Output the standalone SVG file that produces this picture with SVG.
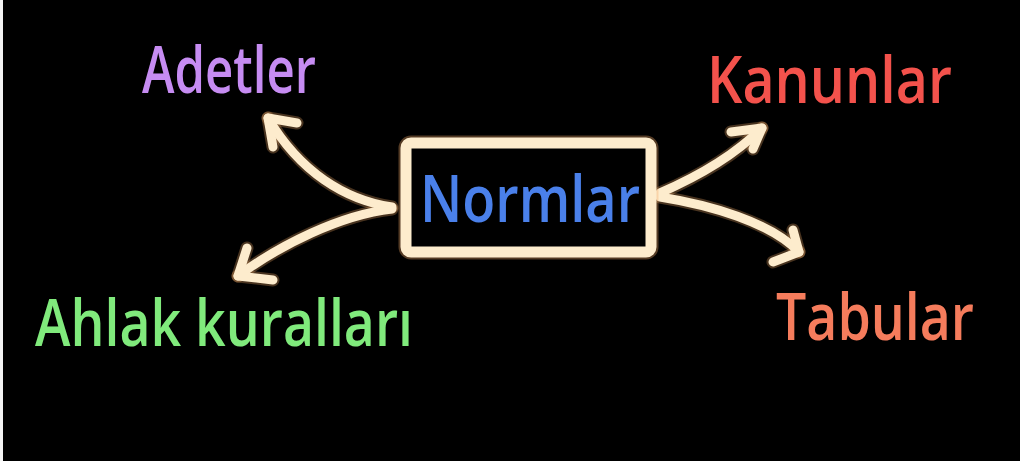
<svg xmlns="http://www.w3.org/2000/svg" width="1020" height="461" viewBox="0 0 1020 461">
<style>
.lbl{font-family:"Open Sans","Liberation Sans",sans-serif;font-size:66px;font-weight:600;}
.glow{fill:none;stroke:#f0a868;stroke-opacity:0.3;stroke-width:13;stroke-linecap:round;stroke-linejoin:round;}
.line{fill:none;stroke:#fdeccd;stroke-width:9;stroke-linecap:round;stroke-linejoin:round;}
</style>
<rect x="0" y="0" width="1020" height="461" fill="#000"/>
<rect x="0" y="0" width="3" height="461" fill="#f4f4f4"/>
<g id="connectors">
  <g class="glow">
    <path d="M392,207 C345,200 300,172 268,118"/>
    <path d="M297,123 L268,118 L273,147"/>
    <path d="M392,209 C340,215 280,245 238,276"/>
    <path d="M247,248 L238,276 L273,280"/>
    <path d="M660,193 C690,180 730,160 762,128"/>
    <path d="M731,132 L762,128 L753,149"/>
    <path d="M660,197 C710,205 770,222 799,252"/>
    <path d="M793,230 L799,252 L773,262"/>
  </g>
  <g class="line">
    <path d="M392,207 C345,200 300,172 268,118"/>
    <path d="M297,123 L268,118 L273,147"/>
    <path d="M392,209 C340,215 280,245 238,276"/>
    <path d="M247,248 L238,276 L273,280"/>
    <path d="M660,193 C690,180 730,160 762,128"/>
    <path d="M731,132 L762,128 L753,149"/>
    <path d="M660,197 C710,205 770,222 799,252"/>
    <path d="M793,230 L799,252 L773,262"/>
  </g>
</g>
<g id="normlar">
  <rect x="406" y="143" width="245" height="109" rx="5" fill="#000" stroke="#f0a868" stroke-opacity="0.35" stroke-width="15"/>
  <rect x="406" y="143" width="245" height="109" rx="5" fill="#000" stroke="#fdeccd" stroke-width="11"/>
  <text class="lbl" x="420" y="222" textLength="220" lengthAdjust="spacingAndGlyphs" fill="#4a80ea">Normlar</text>
</g>
<g id="adetler">
  <text class="lbl" x="142" y="93" textLength="174" lengthAdjust="spacingAndGlyphs" fill="#c68cf2">Adetler</text>
</g>
<g id="kanunlar">
  <text class="lbl" x="707" y="103" textLength="245" lengthAdjust="spacingAndGlyphs" fill="#f3524c">Kanunlar</text>
</g>
<g id="ahlak">
  <text class="lbl" x="35" y="346" textLength="378" lengthAdjust="spacingAndGlyphs" fill="#80ea7c">Ahlak kuralları</text>
</g>
<g id="tabular">
  <text class="lbl" x="776" y="340" textLength="198" lengthAdjust="spacingAndGlyphs" fill="#f57c5c">Tabular</text>
</g>
</svg>
